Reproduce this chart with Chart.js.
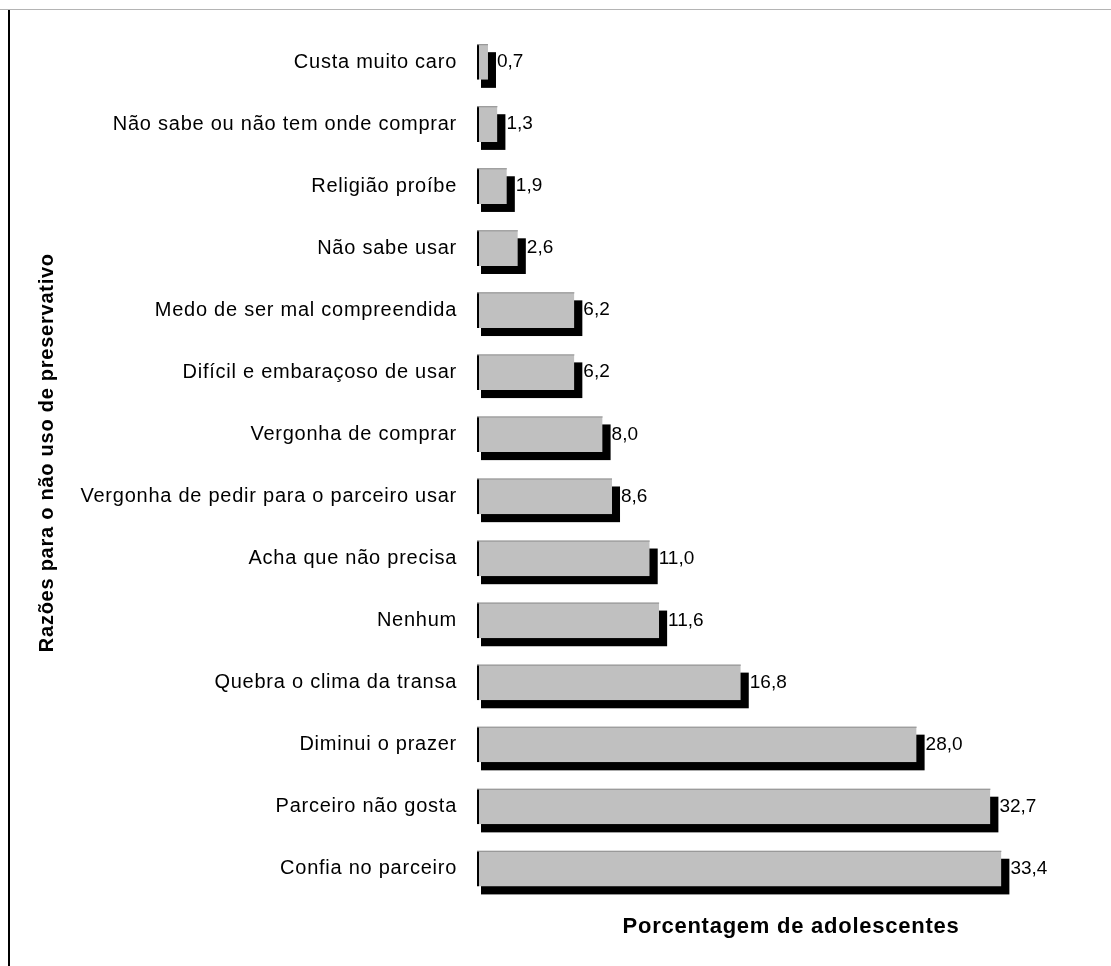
<!DOCTYPE html>
<html>
<head>
    <title>Razões para o não uso de preservativo</title>
    <script src="https://cdn.jsdelivr.net/npm/chart.js"></script>
    <style>
        body { margin: 0; background: #fff; }
        .frameTop { position: absolute; left: 0; top: 9px; width: 1111px; height: 1px; background: #b4b4b4; }
        .frameLeft { position: absolute; left: 8px; top: 10px; width: 2px; height: 956px; background: #000; }
    </style>
</head>
<body>
    <div style="position:relative; width:1111px; height:966px;">
        <canvas id="myChart" width="1111" height="966"></canvas>
        <div class="frameTop"></div>
        <div class="frameLeft"></div>
    </div>
    <script>
        const razoes = [
            'Custa muito caro',
            'Não sabe ou não tem onde comprar',
            'Religião proíbe',
            'Não sabe usar',
            'Medo de ser mal compreendida',
            'Difícil e embaraçoso de usar',
            'Vergonha de comprar',
            'Vergonha de pedir para o parceiro usar',
            'Acha que não precisa',
            'Nenhum',
            'Quebra o clima da transa',
            'Diminui o prazer',
            'Parceiro não gosta',
            'Confia no parceiro'
        ];
        const porcentagem = [0.7, 1.3, 1.9, 2.6, 6.2, 6.2, 8.0, 8.6, 11.0, 11.6, 16.8, 28.0, 32.7, 33.4];

        const font = "'Liberation Sans', Arial, sans-serif";
        const spacing = '0.75px';

        // the original text is a bit spread out; canvas resets state on resize so set it on every pass
        const spacingPlugin = {
            id: 'spacing',
            beforeUpdate(chart) { chart.ctx.letterSpacing = spacing; },
            beforeLayout(chart) { chart.ctx.letterSpacing = spacing; },
            beforeDraw(chart) { chart.ctx.letterSpacing = spacing; }
        };

        // black drop shadow behind each bar + value labels, taken from the bar elements
        const shadowPlugin = {
            id: 'shadow',
            beforeDatasetsDraw(chart) {
                const ctx = chart.ctx;
                const meta = chart.getDatasetMeta(0);
                ctx.save();
                ctx.fillStyle = '#000';
                meta.data.forEach(bar => {
                    const h = bar.height;
                    ctx.fillRect(bar.base + 4, bar.y - h / 2 + 8, bar.x - bar.base + 4, h);
                });
                ctx.restore();
            },
            afterDatasetsDraw(chart) {
                const ctx = chart.ctx;
                const meta = chart.getDatasetMeta(0);
                ctx.save();
                ctx.font = '19px ' + font;
                ctx.letterSpacing = '0px';
                ctx.textBaseline = 'middle';
                meta.data.forEach((bar, i) => {
                    // thin gray top edge
                    ctx.fillStyle = '#8c8c8c';
                    ctx.fillRect(bar.base, bar.y - bar.height / 2, bar.x - bar.base, 1);
                    ctx.fillStyle = '#000';
                    ctx.fillText(porcentagem[i].toFixed(1).replace('.', ','), bar.x + 9, bar.y);
                });
                ctx.restore();
            }
        };

        const ctx = document.getElementById('myChart').getContext('2d');
        new Chart(ctx, {
            type: 'bar',
            data: {
                labels: razoes,
                datasets: [{
                    data: porcentagem,
                    backgroundColor: '#c0c0c0',
                    borderColor: '#000',
                    borderWidth: { left: 2, top: 0, right: 0, bottom: 0 },
                    borderSkipped: false,
                    categoryPercentage: 1,
                    barPercentage: 0.575
                }]
            },
            options: {
                indexAxis: 'y',
                responsive: false,
                animation: false,
                layout: { padding: { left: 28, top: 31, right: 6, bottom: 26 } },
                plugins: {
                    legend: { display: false },
                    tooltip: { enabled: false }
                },
                scales: {
                    x: {
                        min: 0,
                        max: 40,
                        grid: { display: false },
                        border: { display: false },
                        ticks: { display: false },
                        title: {
                            display: true,
                            text: 'Porcentagem de adolescentes',
                            color: '#000',
                            font: { family: font, size: 22, weight: 'bold' },
                            padding: { top: 6, bottom: 0 }
                        }
                    },
                    y: {
                        grid: { display: false },
                        border: { display: false },
                        ticks: {
                            color: '#000',
                            padding: 12,
                            font: { family: font, size: 20 }
                        },
                        title: {
                            display: true,
                            text: '\u00a0\u00a0\u00a0\u00a0Razões para o não uso de preservativo',
                            color: '#000',
                            font: { family: font, size: 20, weight: 'bold' },
                            padding: { top: 7, bottom: 0 }
                        },
                        afterFit(scale) { scale.width = 449; }
                    }
                }
            },
            plugins: [spacingPlugin, shadowPlugin]
        });
    </script>
</body>
</html>
